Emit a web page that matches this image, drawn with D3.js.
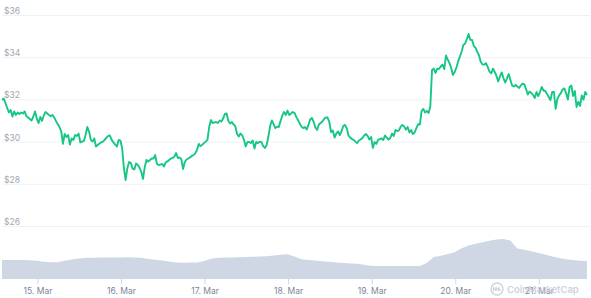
<!DOCTYPE html>
<html>
<head>
<meta charset="utf-8">
<title>Price chart</title>
<script src="https://cdn.jsdelivr.net/npm/d3@7/dist/d3.min.js"></script>
<style>
  * { margin:0; padding:0; }
  body { background:#fff; font-family: Inter, "Noto Sans", sans-serif; }
</style>
</head>
<body>
<div id="chart"></div>
<script>
// 30 minute samples from the start time
var startTime = "2021-03-14T13:50:00";
var stepMinutes = 30;
var prices = [
  31.97,32.04,31.83,31.59,31.38,31.50,31.19,31.43,31.26,31.38,
  31.31,31.38,31.33,31.43,31.21,31.14,31.07,31.00,31.19,31.43,
  31.09,30.88,31.17,30.98,31.24,31.40,31.33,31.26,31.21,31.26,
  31.14,30.98,30.83,30.69,30.50,29.89,30.36,30.22,30.31,29.86,
  30.15,30.08,30.31,30.27,30.38,29.96,30.00,30.03,30.31,30.69,
  30.48,30.08,30.00,30.15,29.77,29.84,29.91,29.96,30.00,30.08,
  30.19,30.27,30.29,30.08,29.96,29.86,29.77,30.08,30.05,29.70,
  28.75,28.18,28.75,29.03,28.99,28.72,28.68,28.96,28.89,28.77,
  28.56,28.23,28.80,29.13,29.06,29.13,29.20,29.20,29.36,28.94,
  28.89,28.91,28.94,28.82,29.01,29.06,29.13,29.20,29.22,29.29,
  29.46,29.22,29.25,29.17,28.70,29.03,29.15,29.20,29.25,29.32,
  29.36,29.44,29.60,29.89,29.79,29.84,29.93,30.00,30.08,30.69,
  31.02,30.88,30.91,30.93,30.88,31.00,30.95,31.09,31.31,31.33,
  30.98,30.86,30.93,30.81,30.74,30.36,30.24,30.38,30.29,30.08,
  29.77,29.98,29.98,29.93,30.05,29.67,29.98,29.93,30.00,29.98,
  29.79,29.70,29.84,30.24,30.74,31.00,30.83,30.64,30.71,30.69,
  30.98,31.24,31.40,31.26,31.47,31.26,31.33,31.40,31.36,31.17,
  31.02,30.86,30.71,30.64,30.69,30.57,30.79,31.05,31.12,30.93,
  30.67,30.55,30.81,30.88,30.95,31.07,31.14,31.14,30.93,30.45,
  30.53,30.19,30.38,30.48,30.31,30.48,30.74,30.79,30.64,30.29,
  30.19,30.12,30.08,30.00,29.93,30.05,30.10,30.17,30.29,30.36,
  30.27,30.10,30.22,29.70,29.98,29.89,30.08,30.12,30.15,30.08,
  30.29,30.19,30.10,30.17,30.38,30.27,30.55,30.50,30.53,30.71,
  30.79,30.71,30.57,30.69,30.43,30.55,30.36,30.43,30.64,30.83,
  30.81,31.45,31.55,31.38,31.45,31.36,31.66,33.39,33.46,33.25,
  33.46,33.44,33.56,33.65,33.44,34.08,33.89,33.72,33.49,33.16,
  33.30,33.51,33.80,34.03,34.27,34.58,34.65,34.86,35.10,34.82,
  34.82,34.53,34.44,34.25,34.08,33.77,33.65,33.65,33.72,33.53,
  33.32,33.23,33.46,33.30,33.11,32.85,33.09,33.28,33.01,32.80,
  32.99,33.20,32.92,32.66,32.61,32.68,32.61,32.54,32.66,32.75,
  32.71,32.49,32.23,32.37,32.30,32.21,32.07,32.35,32.16,32.35,
  32.59,32.42,32.40,32.26,32.11,31.97,32.35,32.35,31.55,32.02,
  32.19,32.30,32.47,32.52,32.30,31.99,32.59,32.66,32.16,32.40,
  31.64,31.88,31.69,32.19,31.99,32.35,32.21
];
// 24h volume ($M), 2 hour samples from the same start
var volStepMinutes = 120;
var volumes = [
  190,190,190,190,187,182,172,168,168,183,
  195,205,212,213,214,214,215,216,218,215,
  212,200,192,186,174,166,163,164,165,180,
  202,212,214,216,217,220,222,225,228,234,
  242,248,225,198,190,184,177,172,165,160,
  156,152,143,133,131,130,130,130,130,130,
  130,160,220,232,250,267,307,335,353,368,
  382,394,400,385,305,293,278,260,244,225,
  209,198,190,183,180
];
var priceTicks = [26, 28, 30, 32, 34, 36];
var dayTicks = ["2021-03-15","2021-03-16","2021-03-17","2021-03-18","2021-03-19","2021-03-20","2021-03-21"];

var width = 591, height = 298;
var t0 = new Date(startTime);
var priceData = prices.map(function(p, i){ return {t: d3.timeMinute.offset(t0, i*stepMinutes), v: p}; });
var volData = volumes.map(function(v, i){ return {t: d3.timeMinute.offset(t0, i*volStepMinutes), v: v}; });

var svg = d3.select("#chart").append("svg")
            .attr("width", width)
            .attr("height", height);

var x = d3.scaleTime()
          .domain([t0, priceData[priceData.length-1].t])
          .range([2, 587]);
var y = d3.scaleLinear().domain([26, 36]).range([226, 15]);
var yVol = d3.scaleLinear().domain([0, 500]).range([279, 229]);

// grid + price labels
var yAxis = svg.append("g")
   .attr("transform", "translate(2,0)")
   .call(d3.axisLeft(y).tickValues(priceTicks).tickSize(-588).tickFormat(function(d){ return "$" + d; }));
yAxis.select(".domain").remove();
yAxis.selectAll("line").attr("stroke", "#eff2f5");
yAxis.selectAll("text")
   .attr("x", 2).attr("dy", "-1.5")
   .attr("text-anchor", "start")
   .attr("fill", "#a1a7b3")
   .style("font-size", "8.5px")
   .style("font-family", "Inter, sans-serif");

// volume
svg.append("path")
   .datum(volData)
   .attr("fill", "#cfd6e4")
   .attr("d", d3.area().x(function(d){ return x(d.t); }).y0(279).y1(function(d){ return yVol(d.v); }));

// price line
svg.append("path")
   .datum(priceData)
   .attr("fill", "none")
   .attr("stroke", "#16c784")
   .attr("stroke-width", 1.9)
   .attr("stroke-linejoin", "round")
   .attr("d", d3.line().x(function(d){ return x(d.t); }).y(function(d){ return y(d.v); }));

// x axis
var xAxis = svg.append("g")
   .attr("transform", "translate(0,279)")
   .call(d3.axisBottom(x).tickValues(dayTicks.map(function(d){ return new Date(d + "T00:00:00"); }))
          .tickSize(5).tickPadding(4).tickFormat(d3.timeFormat("%-d. %b")));
xAxis.select(".domain").remove();
xAxis.selectAll("line").attr("stroke", "#ccd6eb");
xAxis.selectAll("text")
   .attr("fill", "#7d8594")
   .style("font-size", "8.5px")
   .style("font-family", "Inter, sans-serif");

// watermark (overlaps the last day label, as in the original)
var wm = svg.append("g").attr("transform", "translate(497,289)").attr("opacity", 0.85);
wm.append("circle").attr("r", 6).attr("fill", "none").attr("stroke", "#c6ccd7").attr("stroke-width", 1.4);
wm.append("path")
  .attr("d", "M-3.6,2.2 L-3.6,-1.6 L-1,1.6 L-1,-1.6 L1.6,1.6 L1.6,-1.4 Q2.6,1.8 4,1.2")
  .attr("fill", "none").attr("stroke", "#c6ccd7").attr("stroke-width", 1.2).attr("stroke-linejoin", "round");
wm.append("text")
  .attr("x", 10).attr("y", 3.5)
  .attr("fill", "#c6ccd7")
  .style("font-size", "9.5px")
  .style("font-weight", "600")
  .style("font-family", "Inter, sans-serif")
  .text("CoinMarketCap");
</script>
</body>
</html>
